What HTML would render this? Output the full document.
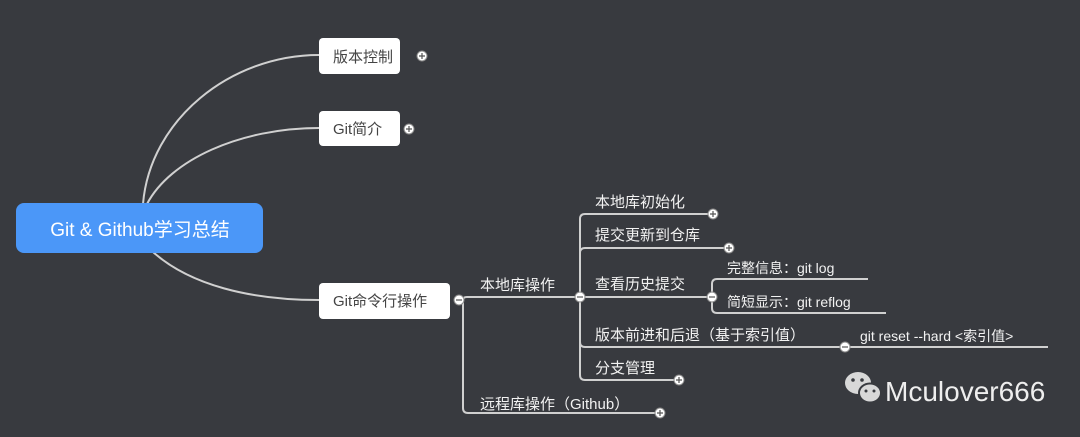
<!DOCTYPE html>
<html><head><meta charset="utf-8"><style>
html,body{margin:0;padding:0;background:#383a3f;}
svg{display:block}
text{font-family:"Liberation Sans","Noto Sans CJK SC",sans-serif;}
</style></head><body>
<svg width="1080" height="437" viewBox="0 0 1080 437" xmlns="http://www.w3.org/2000/svg">
<rect width="1080" height="437" fill="#383a3f"/>
<g fill="none" stroke="#d0d0d0" stroke-width="2">
<path d="M143 204 C150 120 230 55 319 55"/>
<path d="M147 204 C170 160 240 128 319 128"/>
<path d="M153 252 C190 285 250 300 319 300"/>
<path d="M459 300 L463 300 Q463 297 467 297 L580 297"/>
<path d="M463 300 L463 408 Q463 413 468 413 L660 413"/>
<path d="M580 297 L580 219 Q580 214 585 214 L713 214"/>
<path d="M580 253 Q580 248 585 248 L729 248"/>
<path d="M580 297 L712 297"/>
<path d="M580 297 L580 342 Q580 347 585 347 L1048 347"/>
<path d="M580 340 L580 375 Q580 380 585 380 L679 380"/>
<path d="M712 297 L712 284 Q712 279 717 279 L868 279"/>
<path d="M712 297 L712 308 Q712 313 717 313 L886 313"/>
</g>
<rect x="16" y="203" width="247" height="50" rx="8" fill="#4b97f8"/>
<text x="140" y="236" font-size="19" fill="#fff" text-anchor="middle">Git &amp; Github学习总结</text>
<g fill="#fff">
<rect x="319" y="38" width="81" height="36" rx="4"/>
<rect x="319" y="111" width="81" height="35" rx="4"/>
<rect x="319" y="283" width="131" height="36" rx="4"/>
</g>
<g font-size="15" fill="#444">
<text x="333" y="62">版本控制</text>
<text x="333" y="134">Git简介</text>
<text x="333" y="306">Git命令行操作</text>
</g>
<g font-size="15" fill="#f2f2f2">
<text x="480" y="290">本地库操作</text>
<text x="480" y="409">远程库操作（Github）</text>
<text x="595" y="207">本地库初始化</text>
<text x="595" y="240">提交更新到仓库</text>
<text x="595" y="289">查看历史提交</text>
<text x="595" y="340">版本前进和后退（基于索引值）</text>
<text x="595" y="373">分支管理</text>
<text x="727" y="273" font-size="14">完整信息：git log</text>
<text x="727" y="307" font-size="14">简短显示：git reflog</text>
<text x="860" y="341" font-size="14">git reset --hard &lt;索引值&gt;</text>
</g>
<g fill="#fff" stroke="#888" stroke-width="1">
<circle cx="422" cy="56" r="5"/><circle cx="409" cy="129" r="5"/>
<circle cx="459" cy="300" r="5"/><circle cx="580" cy="297" r="5"/>
<circle cx="660" cy="413" r="5"/><circle cx="713" cy="214" r="5"/>
<circle cx="729" cy="248" r="5"/><circle cx="712" cy="297" r="5"/>
<circle cx="845" cy="347" r="5"/><circle cx="679" cy="380" r="5"/>
</g>
<g stroke="#555" stroke-width="1.2">
<path d="M419 56h6M422 53v6"/><path d="M406 129h6M409 126v6"/>
<path d="M456 300h6"/><path d="M577 297h6"/>
<path d="M657 413h6M660 410v6"/><path d="M710 214h6M713 211v6"/>
<path d="M726 248h6M729 245v6"/><path d="M709 297h6"/>
<path d="M842 347h6"/><path d="M676 380h6M679 377v6"/>
</g>
<g fill="#d8d8d8">
<ellipse cx="858" cy="383" rx="13" ry="11"/>
<ellipse cx="870" cy="393" rx="11" ry="9.5" stroke="#383a3f" stroke-width="2"/>
</g>
<g fill="#383a3f">
<circle cx="853" cy="380" r="1.8"/><circle cx="862" cy="380" r="1.8"/>
<circle cx="866" cy="391" r="1.5"/><circle cx="874" cy="391" r="1.5"/>
</g>
<text x="885" y="401" font-size="28" fill="#eeeeee">Mculover666</text>
</svg>
</body></html>
